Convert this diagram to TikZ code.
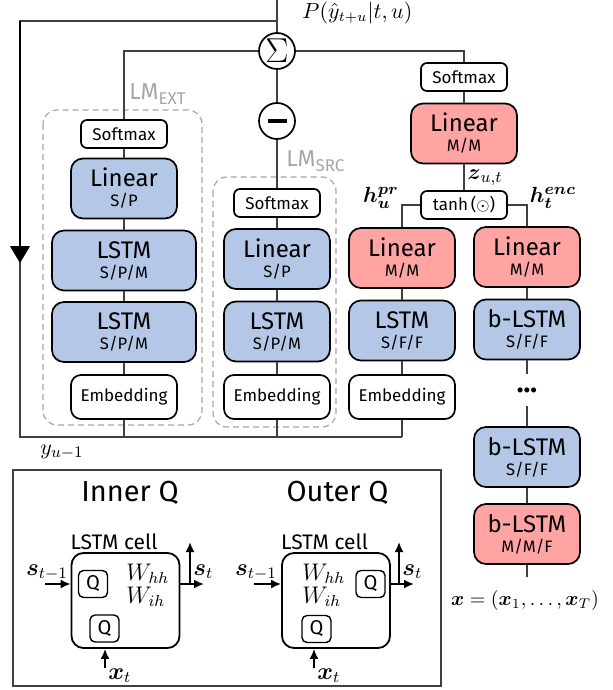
\documentclass[tikz,border=0pt]{standalone}
\usepackage{amsmath}
\usepackage[no-math]{fontspec}
\setmainfont{Fira Sans}
\usetikzlibrary{arrows.meta}

\definecolor{lstmblue}{HTML}{B4C7E7}
\definecolor{lstmred}{HTML}{FFA3A3}
\definecolor{lmgray}{HTML}{A6A6A6}
\definecolor{wiregray}{HTML}{404040}

\newcommand{\sublab}[1]{{\fontsize{8.3}{8}\selectfont #1}}
\newcommand{\lmname}[1]{LM\raisebox{-2.5pt}{\fontsize{8.5}{8.5}\selectfont #1}}

\tikzset{
  nnbox/.style={draw, line width=0.85pt, rounded corners=6pt, minimum width=53pt, minimum height=30pt, inner sep=1pt, align=center, font=\fontsize{12}{10}\selectfont},
  bluelayer/.style={nnbox, fill=lstmblue},
  redlayer/.style={nnbox, fill=lstmred},
  smallbox/.style={draw, line width=0.85pt, rounded corners=3pt, fill=white, minimum width=43pt, minimum height=14pt, inner sep=1pt, font=\fontsize{8.5}{9}\selectfont},
  embbox/.style={smallbox, rounded corners=5pt, minimum width=53pt, minimum height=22pt},
  opnode/.style={draw, circle, line width=0.85pt, fill=white, minimum size=18pt, inner sep=0pt},
  lmframe/.style={draw=lmgray, dash pattern=on 3pt off 2pt, line width=0.6pt, rounded corners=7pt},
  lmlabel/.style={text=lmgray, anchor=base west, inner sep=0pt, font=\fontsize{11.5}{12}\selectfont},
  wire/.style={draw=wiregray, line width=0.55pt},
  mathlab/.style={inner sep=0.5pt, font=\fontsize{11}{12}\selectfont},
  celllab/.style={inner sep=1pt, font=\fontsize{12}{13}\selectfont},
  cellbox/.style={draw, line width=0.9pt, rounded corners=6pt, minimum width=54pt, minimum height=47.5pt},
  qbox/.style={draw, line width=0.7pt, rounded corners=2.5pt, minimum width=14.5pt, minimum height=13.5pt, inner sep=0pt, font=\fontsize{10}{10}\selectfont},
  arr/.style={-{Latex[length=5pt,width=4.5pt]}, line width=0.9pt},
}

\begin{document}
\begin{tikzpicture}[x=0.5pt,y=-0.5pt]
\useasboundingbox (0,0) rectangle (612,690);

% output, sum and minus
\coordinate (out) at (277,0);
\node[opnode] (sum) at (277,51) {\fontsize{16}{16}\selectfont$\Sigma$};
\node[mathlab, inner sep=0pt, anchor=west, font=\fontsize{10.5}{12}\selectfont] (plab) at (302,13) {$P(\hat{y}_{t+u}|t,u)$};
\node[opnode] (minus) at (277,121) {\rule{9.5pt}{1.8pt}};

% LM EXT
\draw[lmframe] (43,110) rectangle (202,425);
\node[lmlabel] (extlab) at (129,99) {\lmname{EXT}};
\node[smallbox] (extsoft) at (124,134) {Softmax};
\node[bluelayer] (extlin) at (124,188.5) {Linear\\\sublab{S/P}};
\node[bluelayer, minimum width=72pt] (extlstma) at (124,260.5) {LSTM\\\sublab{S/P/M}};
\node[bluelayer, minimum width=72pt] (extlstmb) at (124,332) {LSTM\\\sublab{S/P/M}};
\node[embbox] (extemb) at (124,397) {Embedding};

% LM SRC
\draw[lmframe] (213,177) rectangle (336,427);
\node[lmlabel] (srclab) at (286,166) {\lmname{SRC}};
\node[smallbox] (srcsoft) at (277,203) {Softmax};
\node[bluelayer] (srclin) at (277,259) {Linear\\\sublab{S/P}};
\node[bluelayer] (srclstm) at (277,331.5) {LSTM\\\sublab{S/P/M}};
\node[embbox] (srcemb) at (277,397) {Embedding};

% joint network
\node[smallbox] (jsoft) at (464,77) {Softmax};
\node[redlayer] (jlin) at (464,133.5) {Linear\\\sublab{M/M}};
\node[smallbox] (jtanh) at (464,205) {tanh\,($\odot$)};
\node[mathlab] (zlab) at (485,178) {$\boldsymbol{z}_{u,t}$};
\node[mathlab] (hprlab) at (381,198) {$\boldsymbol{h^{pr}_{u}}$};
\node[mathlab] (henclab) at (553,198) {$\boldsymbol{h^{enc}_{t}}$};

% prediction network
\node[redlayer] (plin) at (402,258) {Linear\\\sublab{M/M}};
\node[bluelayer] (plstm) at (402,330.5) {LSTM\\\sublab{S/F/F}};
\node[embbox] (pemb) at (402,397) {Embedding};

% encoder
\node[redlayer] (elin) at (527,257) {Linear\\\sublab{M/M}};
\node[bluelayer] (eblstma) at (527,329.5) {b-LSTM\\\sublab{S/F/F}};
\node[minimum height=16pt, inner sep=0pt] (edots) at (527,390) {\bfseries\fontsize{14}{14}\selectfont ...};
\node[bluelayer] (eblstmb) at (527,457) {b-LSTM\\\sublab{S/F/F}};
\node[redlayer] (eblstmc) at (527,534) {b-LSTM\\\sublab{M/M/F}};
\coordinate (xin) at (527,577);
\node[mathlab, font=\fontsize{10}{12}\selectfont] (xlab) at (525,600) {$\boldsymbol{x}=(\boldsymbol{x}_1,\ldotp\ldotp\ldotp,\boldsymbol{x}_T)$};

% wires
\draw[wire] (out) -- (sum);
\draw[wire] (sum) -| (extsoft);
\draw[wire] (sum) -| (jsoft);
\draw[wire] (sum) -- (minus) -- (srcsoft);
\draw[wire] (extsoft) -- (extlin) -- (extlstma) -- (extlstmb) -- (extemb);
\draw[wire] (srcsoft) -- (srclin) -- (srclstm) -- (srcemb);
\draw[wire] (jsoft) -- (jlin) -- (jtanh);
\draw[wire] (jtanh.west) -| (plin);
\draw[wire] (jtanh.east) -| (elin);
\draw[wire] (plin) -- (plstm) -- (pemb);
\draw[wire] (elin) -- (eblstma) -- (edots) -- (eblstmb) -- (eblstmc) -- (xin);

% feedback y_{u-1}
\coordinate (fbtop) at (277,21);
\coordinate (fbcorner) at (20,21);
\coordinate (fbarrow) at (20,263);
\coordinate (fbbot) at (20,437);
\coordinate (fbend) at (402,437);
\draw[wire] (fbtop) -- (fbcorner) -- (fbbot) -- (fbend);
\draw[wire, draw=black, -{Triangle[width=10pt,length=8.5pt]}] (fbcorner) -- (fbarrow);
\draw[wire] (extemb) -- (extemb |- fbbot);
\draw[wire] (srcemb) -- (srcemb |- fbbot);
\draw[wire] (pemb) -- (pemb |- fbbot);
\node[mathlab] (ylab) at (62,452) {$y_{u-1}$};

% quantization legend
\draw[line width=0.7pt, draw=wiregray] (13,470) rectangle (441,686);
\node[font=\fontsize{14.5}{15}\selectfont] (innert) at (130,493) {Inner Q};
\node[font=\fontsize{14.5}{15}\selectfont] (outert) at (337.5,493) {Outer Q};

% inner Q cell
\node[cellbox] (icell) at (125.5,600.5) {};
\node[font=\fontsize{10.5}{11}\selectfont] (icellname) at (114,542) {LSTM cell};
\node[qbox] (iqa) at (93,584) {Q};
\node[qbox] (iqb) at (104.5,628.5) {Q};
\node[celllab, anchor=base west] (iwhh) at (124,580) {$W_{hh}$};
\node[celllab, anchor=base west] (iwih) at (124,603) {$W_{ih}$};
\coordinate (isin) at (45,584);
\coordinate (isout) at (204,584);
\coordinate (isup) at (190,542);
\coordinate (ixin) at (105,668);
\draw[arr] (isin) -- (isin -| icell.west);
\draw[arr] (isout -| icell.east) -- (isout);
\draw[arr] (isup |- isout) -- (isup);
\draw[arr] (ixin) -- (ixin |- icell.south);
\node[celllab, anchor=base] (islab) at (47,575) {$\boldsymbol{s}_{t-1}$};
\node[celllab, anchor=base west] (istlab) at (191,575) {$\boldsymbol{s}_t$};
\node[celllab, anchor=base west] (ixlab) at (106,679) {$\boldsymbol{x}_t$};

% outer Q cell
\node[cellbox] (ocell) at (336,600.5) {};
\node[font=\fontsize{10.5}{11}\selectfont] (ocellname) at (324.5,542) {LSTM cell};
\node[qbox] (oqa) at (370.5,584) {Q};
\node[qbox] (oqb) at (316.5,629) {Q};
\node[celllab, anchor=base west] (owhh) at (300,580) {$W_{hh}$};
\node[celllab, anchor=base west] (owih) at (300,603) {$W_{ih}$};
\coordinate (osin) at (254,584);
\coordinate (osout) at (414,584);
\coordinate (osup) at (399,542);
\coordinate (oxin) at (314,668);
\draw[arr] (osin) -- (osin -| ocell.west);
\draw[arr] (osout -| ocell.east) -- (osout);
\draw[arr] (osup |- osout) -- (osup);
\draw[arr] (oxin) -- (oxin |- ocell.south);
\node[celllab, anchor=base] (oslab) at (256,575) {$\boldsymbol{s}_{t-1}$};
\node[celllab, anchor=base west] (ostlab) at (400,575) {$\boldsymbol{s}_t$};
\node[celllab, anchor=base west] (oxlab) at (315,679) {$\boldsymbol{x}_t$};

\end{tikzpicture}
\end{document}
